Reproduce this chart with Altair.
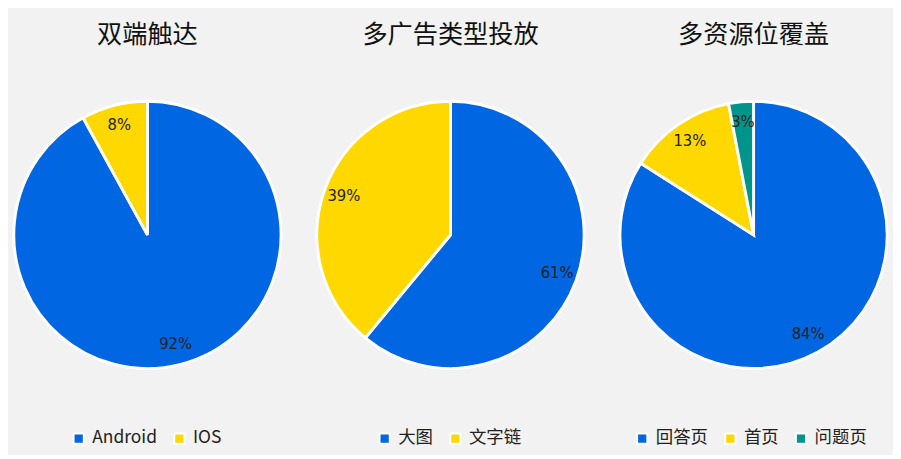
import pandas as pd
import altair as alt

FONT = "Noto Sans CJK SC"
NUM_FONT = "Liberation Sans Narrow, DejaVu Sans Condensed, sans-serif"

titles = ["双端触达", "多广告类型投放", "多资源位覆盖"]

cats_1 = ["Android", "IOS"]
vals_1 = [92, 8]

cats_2 = ["大图", "文字链"]
vals_2 = [61, 39]

cats_3 = ["回答页", "首页", "问题页"]
vals_3 = [84, 13, 3]

colors = ["#0066E1", "#FFD800", "#00958A"]


def pie(title, cats, vals, legend_x):
    df = pd.DataFrame({
        "cat": cats,
        "val": vals,
        "idx": list(range(len(cats))),
        "label": ["%d%%" % v for v in vals],
    })
    base = alt.Chart(df).encode(
        theta=alt.Theta("val:Q", stack=True),
        order=alt.Order("idx:Q"),
    )
    arcs = base.mark_arc(outerRadius=138, stroke="white", strokeWidth=3).encode(
        color=alt.Color(
            "cat:N",
            scale=alt.Scale(domain=cats, range=colors[:len(cats)]),
            sort=cats,
            legend=alt.Legend(
                title=None,
                orient="none",
                direction="horizontal",
                legendX=legend_x,
                legendY=341,
                symbolType="square",
                symbolSize=110,
                symbolStrokeColor="white",
                symbolStrokeWidth=2,
                labelFont=FONT,
                labelFontSize=18,
                labelColor="#222222",
                labelOffset=5,
                columnPadding=13,
            ),
        )
    )
    text = base.mark_text(radius=117, font=NUM_FONT, fontSize=17, color="#222222").encode(
        text="label:N"
    )
    return (arcs + text).properties(
        width=278,
        height=280,
        title=alt.TitleParams(title, font=FONT, fontSize=26, fontWeight="normal",
                              color="#111111", offset=49),
    )


chart = alt.hconcat(
    pie(titles[0], cats_1, vals_1, 59),
    pie(titles[1], cats_2, vals_2, 62),
    pie(titles[2], cats_3, vals_3, 15),
    spacing=25,
).resolve_scale(color="independent").properties(
    padding={"top": 8, "left": 0, "right": 0, "bottom": 0},
    background="#F2F2F2",
).configure_view(stroke=None)

chart.save("out.html", embed_options={"renderer": "svg", "actions": False})
